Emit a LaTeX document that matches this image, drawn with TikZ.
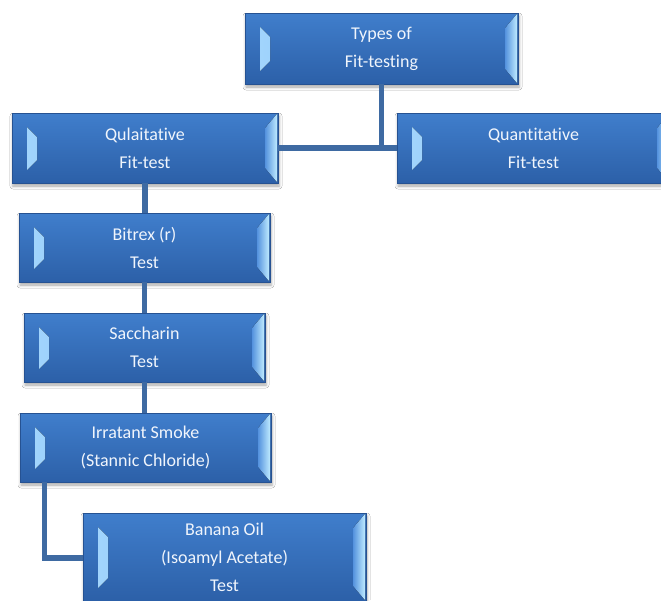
\documentclass[tikz,border=0pt]{standalone}
\usepackage{fontspec}
\setmainfont{Carlito}[Ligatures={NoCommon}]
\usetikzlibrary{calc,shadows.blur}
\definecolor{boxtop}{RGB}{64,126,204}
\definecolor{boxbot}{RGB}{44,96,168}
\definecolor{boxline}{RGB}{38,82,146}
\definecolor{lwA}{RGB}{165,215,253}
\definecolor{lwB}{RGB}{96,164,238}
\definecolor{rwA}{RGB}{84,146,222}
\definecolor{rwB}{RGB}{190,234,255}
\definecolor{connc}{RGB}{62,106,162}
\definecolor{txt}{RGB}{240,245,252}
\tikzset{
  bevelbox/.style={rectangle, draw=boxline, line width=0.8pt,
    top color=boxtop, bottom color=boxbot, text=txt, align=center,
    font=\fontsize{18}{28}\selectfont, inner sep=0pt,
    blur shadow={shadow xshift=1pt, shadow yshift=-3pt, shadow blur radius=3pt, shadow opacity=35},
    path picture={
      \fill[left color=lwA, right color=lwB]
        ($(path picture bounding box.north west)+(15pt,-14pt)$) --
        ($(path picture bounding box.north west)+(25pt,-24pt)$) --
        ($(path picture bounding box.south west)+(25pt,23pt)$) --
        ($(path picture bounding box.south west)+(15pt,13pt)$) -- cycle;
      \fill[left color=rwA, right color=rwB]
        ($(path picture bounding box.north east)+(-13pt,-15pt)$) --
        ($(path picture bounding box.north east)+(-1pt,-1pt)$) --
        ($(path picture bounding box.south east)+(-1pt,1pt)$) --
        ($(path picture bounding box.south east)+(-13pt,15pt)$) -- cycle;
    }},
  conn/.style={draw=connc, line width=5.5pt}
}
\begin{document}
\begin{tikzpicture}[x=1pt,y=-1pt]
\useasboundingbox (0,0) rectangle (661,600);
\fill[white] (0,0) rectangle (661,600);
\node[bevelbox, minimum width=273pt, minimum height=71pt] (top) at (381.5,48.5) {Types of\\Fit-testing};
\node[bevelbox, minimum width=266pt, minimum height=70pt] (qual) at (145,148) {Qulaitative\\Fit-test};
\node[bevelbox, minimum width=273pt, minimum height=70pt] (quant) at (533.5,148) {Quantitative\\Fit-test};
\node[bevelbox, minimum width=251pt, minimum height=69pt] (bitrex) at (144.5,247.5) {Bitrex (r)\\Test};
\node[bevelbox, minimum width=241pt, minimum height=69pt] (sacch) at (144.5,347.5) {Saccharin\\Test};
\node[bevelbox, minimum width=251pt, minimum height=69pt] (smoke) at (145.5,447.5) {Irratant Smoke\\(Stannic Chloride)};
\node[bevelbox, minimum width=283pt, minimum height=88pt] (banana) at (224.5,557) {Banana Oil\\(Isoamyl Acetate)\\Test};
\draw[conn] (qual.east) -- (quant.west);
\draw[conn] (top.south) -- ([yshift=-2.5pt]top.south |- qual.east);
\draw[conn] (qual.south) -- (qual.south |- bitrex.north);
\draw[conn] (bitrex.south) -- (bitrex.south |- sacch.north);
\draw[conn] (sacch.south) -- (sacch.south |- smoke.north);
\draw[conn] ([xshift=25pt]smoke.south west) |- ([yshift=-1pt]banana.west);
\end{tikzpicture}
\end{document}
